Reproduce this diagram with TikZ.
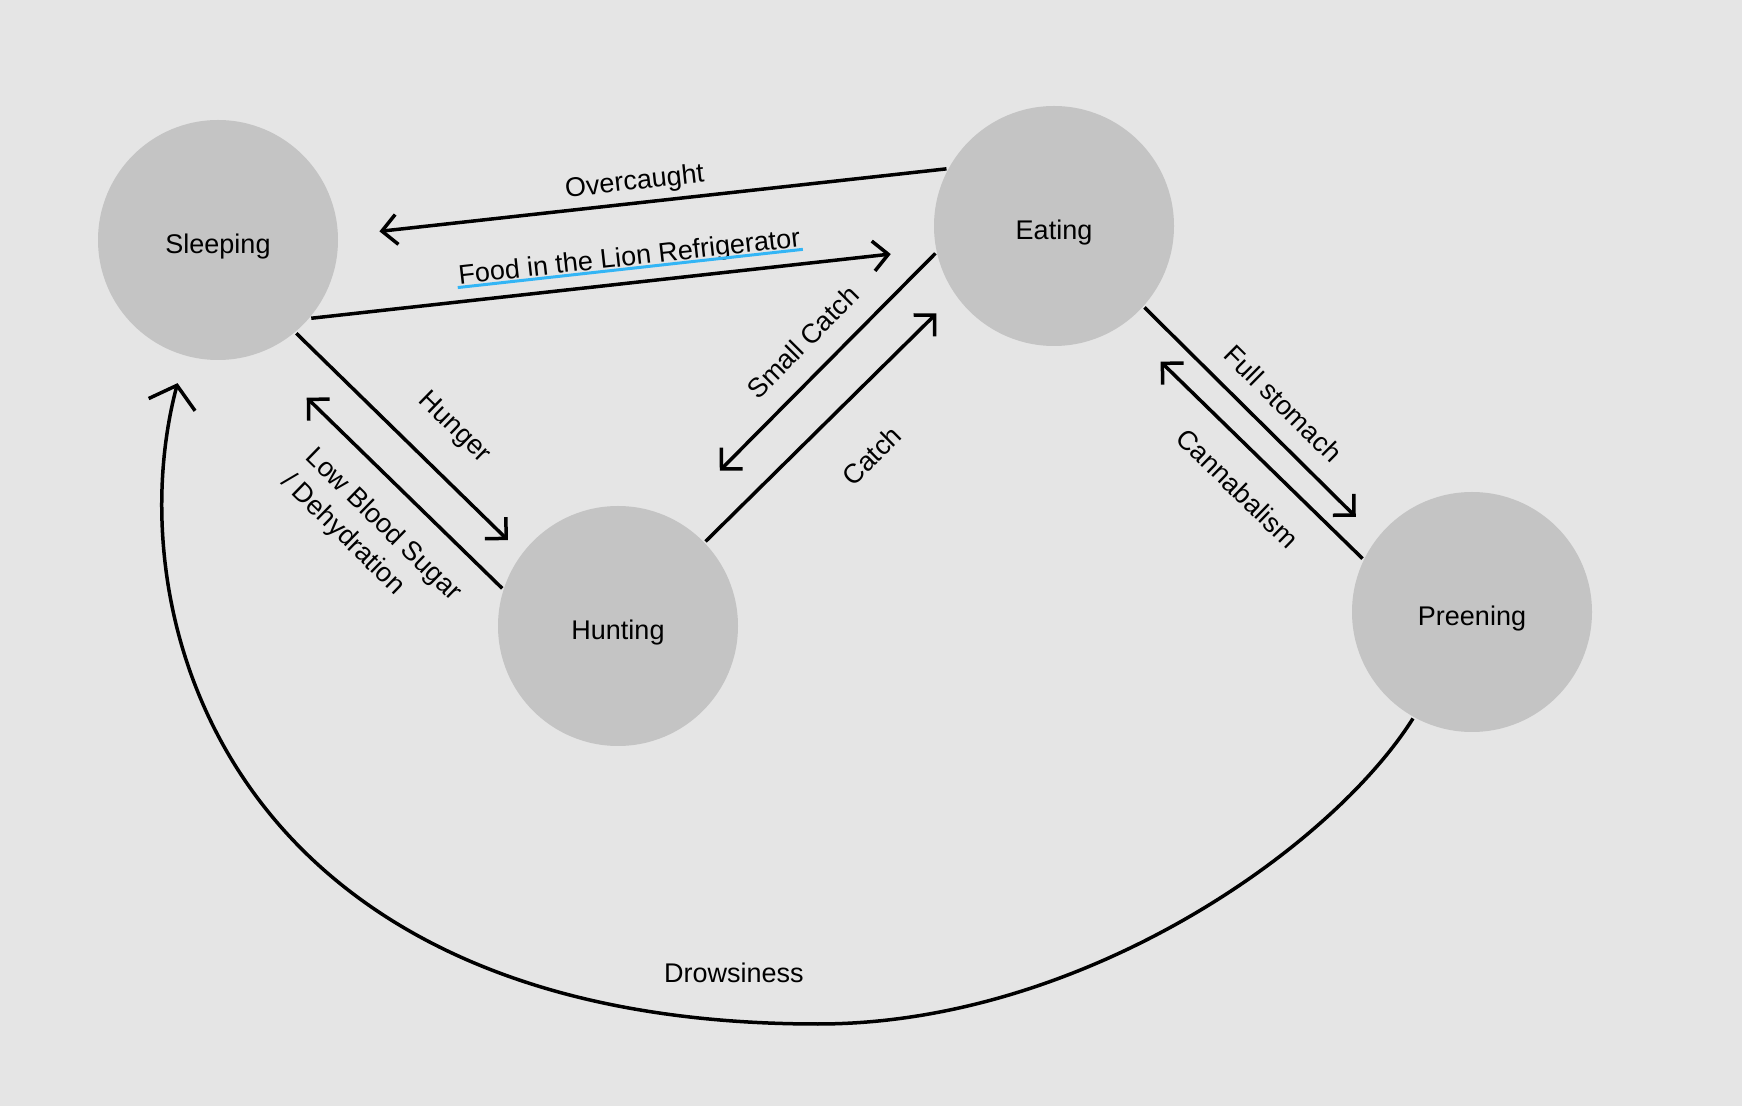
\documentclass[tikz,border=0pt]{standalone}
\usepackage{fontspec}
\setmainfont{Liberation Sans}
\usetikzlibrary{arrows.meta}
\definecolor{lnbg}{HTML}{E5E5E5}
\definecolor{lngray}{HTML}{C4C4C4}
\definecolor{lnblue}{HTML}{33B5F5}

\begin{document}
\begin{tikzpicture}[x=0.5pt,y=-0.5pt,font=\fontsize{13.5}{17.3}\selectfont,line width=1.75pt]
  \tikzstyle{state}=[circle,fill=lngray,minimum size=120pt,inner sep=0pt,text height=13.7pt,text depth=0pt]
  \tikzstyle{trans}=[draw,-{Straight Barb[length=7.5pt,width=15pt]}]
  \tikzstyle{lbl}=[sloped,inner sep=0pt]
  \path[use as bounding box,fill=lnbg] (0,0) rectangle (1742,1106);
  % states of the lion
  \node[state] (sleep) at (218,240) {Sleeping};
  \node[state] (eat) at (1054,226) {Eating};
  \node[state] (hunt) at (618,626) {Hunting};
  \node[state] (preen) at (1472,612) {Preening};
  % sleeping <-> eating
  \draw[trans,shorten >=20pt] (eat.152) -- (sleep.2) node[lbl,pos=0.51,above=3pt]{Overcaught};
  \draw[trans,shorten >=22pt] (sleep.-40) -- (eat.191) node[lbl,pos=0.515,above=5pt] (food) {Food in the Lion Refrigerator};
  \draw[lnblue,line width=1.5pt] ([yshift=-1.5pt]food.base west) -- ([yshift=-1.5pt]food.base east);
  % sleeping <-> hunting
  \draw[trans,shorten >=9pt] (sleep.-50) -- (hunt.143) node[lbl,pos=0.57,above=14.5pt]{Hunger};
  \draw[trans,shorten >=31.5pt] (hunt.162) -- (sleep.-69) node[lbl,pos=0.385,below=12pt,align=left]{Low Blood Sugar\\/ Dehydration};
  % hunting <-> eating
  \draw[trans,shorten >=33pt] (eat.193) -- (hunt.63) node[lbl,pos=0.42,above=10pt]{Small Catch};
  \draw[trans,shorten >=12.5pt] (hunt.44) -- (eat.215) node[lbl,pos=0.51,below=22pt]{Catch};
  % eating <-> preening
  \draw[trans,shorten >=14.3pt] (eat.-42) -- (preen.142) node[lbl,pos=0.51,above=8.8pt]{Full stomach};
  \draw[trans,shorten >=25.7pt] (preen.154) -- (eat.-55) node[lbl,pos=0.415,below=12.6pt]{Cannabalism};
  % back to sleep
  \draw[-{Straight Barb[length=10pt,width=24pt]},shorten >=13.5pt] (preen.241) .. controls (1330,850) and (1080,1024) .. (818,1024)
    .. controls (230,1024) and (115,620) .. (sleep.254);
  \node (drowsy) at (734,973) {Drowsiness};
\end{tikzpicture}
\end{document}
